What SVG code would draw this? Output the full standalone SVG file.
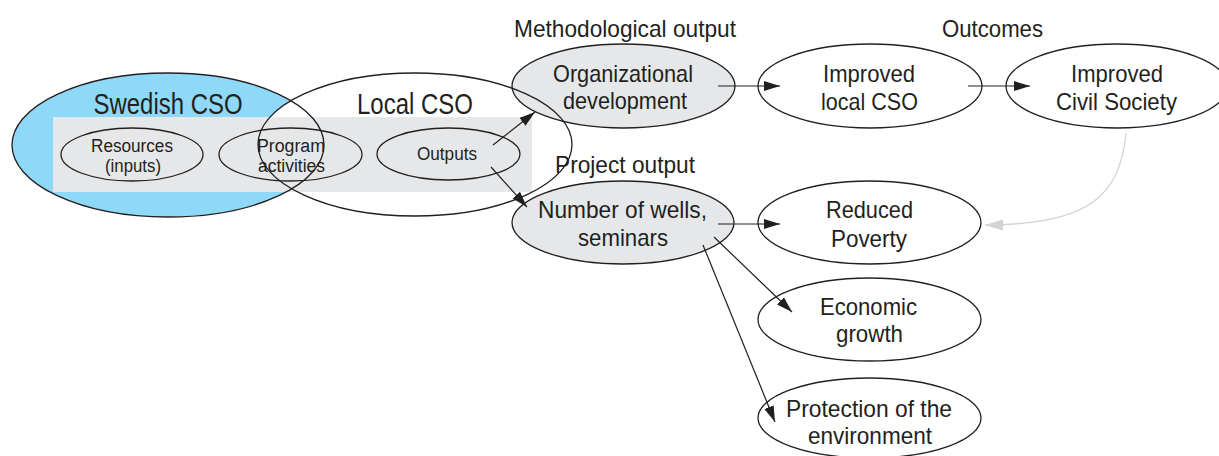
<svg xmlns="http://www.w3.org/2000/svg" width="1219" height="456" viewBox="0 0 1219 456">
<defs>
<style>
text{font-family:"Liberation Sans Narrow","Liberation Sans",Arial,sans-serif;fill:#231f20;text-anchor:middle}
.big{font-size:29px}
.hdr{font-size:24px}
.nd{font-size:24px}
.sm{font-size:18px}
.ol{fill:none;stroke:#231f20;stroke-width:1.3}
.gr{fill:#e6e7e8;stroke:#231f20;stroke-width:1.3}
.wh{fill:#fff;stroke:#231f20;stroke-width:1.3}
.cn{fill:none;stroke:#231f20;stroke-width:1.2}
</style>
<marker id="ah" markerUnits="userSpaceOnUse" markerWidth="17" markerHeight="11" refX="16" refY="5" orient="auto">
<path d="M0,0 L16,5 L0,10 Z" fill="#231f20"/>
</marker>
<marker id="ahg" markerUnits="userSpaceOnUse" markerWidth="19" markerHeight="12" refX="18" refY="5.5" orient="auto">
<path d="M0,0 L18,5.5 L0,11 Z" fill="#d1d3d4"/>
</marker>
</defs>

<g id="background">
<ellipse cx="168" cy="145" rx="156" ry="72" fill="#8ed8f8"/>
<ellipse cx="415" cy="144.5" rx="157" ry="71.5" fill="#fff"/>
<rect x="53" y="117" width="479" height="75" fill="#e6e7e8"/>
</g>

<g id="org-dev">
<ellipse class="gr" cx="623.5" cy="86" rx="111.5" ry="42"/>
<text class="nd" x="623" y="82" textLength="140" lengthAdjust="spacingAndGlyphs">Organizational</text>
<text class="nd" x="625" y="109" textLength="124" lengthAdjust="spacingAndGlyphs">development</text>
</g>

<g id="wells">
<ellipse class="gr" cx="623" cy="222.5" rx="111" ry="41.5"/>
<text class="nd" x="622.5" y="218" textLength="169" lengthAdjust="spacingAndGlyphs">Number of wells,</text>
<text class="nd" x="623" y="246" textLength="90" lengthAdjust="spacingAndGlyphs">seminars</text>
</g>

<g id="swedish-cso">
<ellipse class="ol" cx="168" cy="145" rx="156" ry="72"/>
<text class="big" x="168" y="114" textLength="149" lengthAdjust="spacingAndGlyphs">Swedish CSO</text>
</g>

<g id="local-cso">
<ellipse class="ol" cx="415" cy="144.5" rx="157" ry="71.5"/>
<text class="big" x="415" y="114" textLength="116" lengthAdjust="spacingAndGlyphs">Local CSO</text>
</g>

<g id="resources">
<ellipse class="ol" cx="132" cy="154.5" rx="71" ry="26.5"/>
<text class="sm" x="132" y="151.5" textLength="82" lengthAdjust="spacingAndGlyphs">Resources</text>
<text class="sm" x="133" y="171.7" textLength="56" lengthAdjust="spacingAndGlyphs">(inputs)</text>
</g>

<g id="program">
<ellipse class="ol" cx="290.5" cy="154.5" rx="71.5" ry="26.5"/>
<text class="sm" x="291" y="151.5" textLength="68" lengthAdjust="spacingAndGlyphs">Program</text>
<text class="sm" x="291.5" y="171.7" textLength="67" lengthAdjust="spacingAndGlyphs">activities</text>
</g>

<g id="outputs">
<ellipse class="ol" cx="448.5" cy="154" rx="71.5" ry="26"/>
<text class="sm" x="447" y="160" textLength="60" lengthAdjust="spacingAndGlyphs">Outputs</text>
</g>

<g id="labels">
<text class="hdr" x="625" y="37" textLength="222" lengthAdjust="spacingAndGlyphs">Methodological output</text>
<text class="hdr" x="992.5" y="37" textLength="101" lengthAdjust="spacingAndGlyphs">Outcomes</text>
<text class="hdr" x="625" y="173" textLength="140" lengthAdjust="spacingAndGlyphs">Project output</text>
</g>

<g id="improved-local">
<ellipse class="wh" cx="870" cy="86" rx="112" ry="42"/>
<text class="nd" x="869" y="82" textLength="92" lengthAdjust="spacingAndGlyphs">Improved</text>
<text class="nd" x="869.5" y="110" textLength="97" lengthAdjust="spacingAndGlyphs">local CSO</text>
</g>

<g id="improved-civil">
<ellipse class="wh" cx="1117" cy="86" rx="111" ry="42"/>
<text class="nd" x="1117" y="82" textLength="92" lengthAdjust="spacingAndGlyphs">Improved</text>
<text class="nd" x="1116.5" y="110" textLength="121" lengthAdjust="spacingAndGlyphs">Civil Society</text>
</g>

<g id="reduced-poverty">
<ellipse class="wh" cx="869.5" cy="222.5" rx="111.5" ry="41.5"/>
<text class="nd" x="869.5" y="218" textLength="87" lengthAdjust="spacingAndGlyphs">Reduced</text>
<text class="nd" x="869" y="247" textLength="76" lengthAdjust="spacingAndGlyphs">Poverty</text>
</g>

<g id="economic-growth">
<ellipse class="wh" cx="869.5" cy="319.5" rx="111.5" ry="41.5"/>
<text class="nd" x="868.5" y="315" textLength="97" lengthAdjust="spacingAndGlyphs">Economic</text>
<text class="nd" x="869.5" y="342" textLength="67" lengthAdjust="spacingAndGlyphs">growth</text>
</g>

<g id="protection">
<ellipse class="wh" cx="869.5" cy="418" rx="111.5" ry="40"/>
<text class="nd" x="869" y="417" textLength="166" lengthAdjust="spacingAndGlyphs">Protection of the</text>
<text class="nd" x="870" y="444" textLength="124" lengthAdjust="spacingAndGlyphs">environment</text>
</g>

<g id="connectors">
<line class="cn" x1="493" y1="145" x2="535" y2="112" marker-end="url(#ah)"/>
<line class="cn" x1="491" y1="167" x2="527" y2="207" marker-end="url(#ah)"/>
<line class="cn" x1="718" y1="86" x2="780" y2="86" marker-end="url(#ah)"/>
<line class="cn" x1="968" y1="86" x2="1030" y2="86" marker-end="url(#ah)"/>
<line class="cn" x1="718" y1="224" x2="780" y2="224" marker-end="url(#ah)"/>
<line class="cn" x1="714" y1="237" x2="792" y2="312" marker-end="url(#ah)"/>
<line class="cn" x1="703" y1="245" x2="775" y2="422" marker-end="url(#ah)"/>
<path d="M1126,133 C1120,195 1090,225 985,225" fill="none" stroke="#d1d3d4" stroke-width="1.3" marker-end="url(#ahg)"/>
</g>
</svg>
